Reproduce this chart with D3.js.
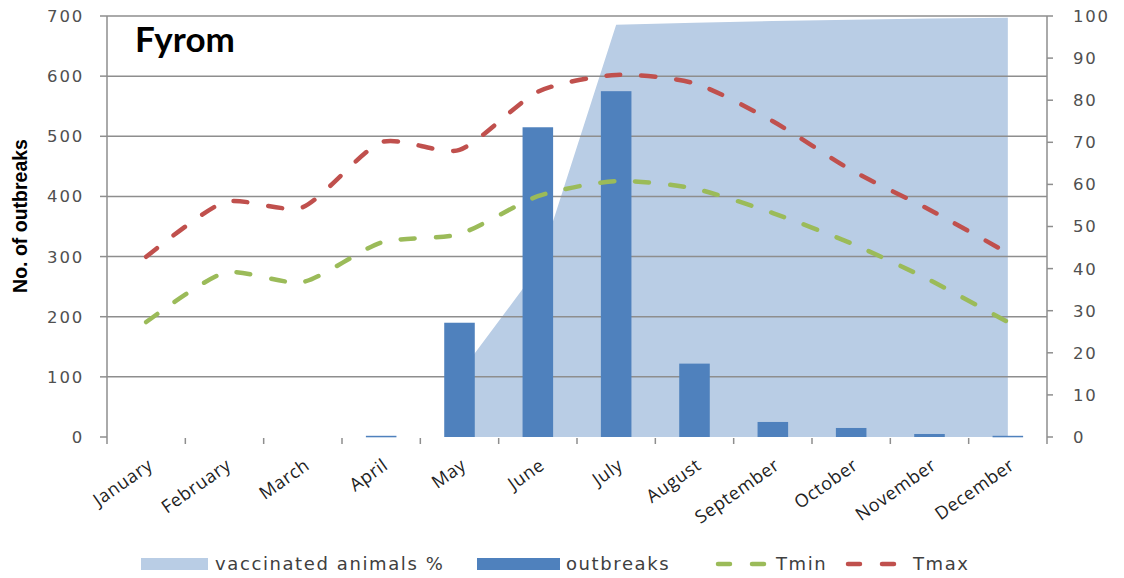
<!DOCTYPE html>
<html>
<head>
<meta charset="utf-8">
<script src="https://cdn.jsdelivr.net/npm/d3@7"></script>
<style>
  html, body { margin: 0; padding: 0; background: #fff; }
  svg { display: block; }
</style>
</head>
<body>
<svg id="chart" width="1124" height="578"></svg>
<script>
// Monthly outbreaks, vaccination coverage and temperatures
const months = ["January", "February", "March", "April", "May", "June",
                "July", "August", "September", "October", "November", "December"];
const outbreaks = [0, 0, 0, 2, 190, 515, 575, 122, 25, 15, 5, 2];
const vaccinated = [null, null, null, null, 15, 40, 97.9, 98.4, 98.8, 99.1, 99.4, 99.6];
const tmin = [27.3, 39, 36.8, 46.2, 48.2, 57.2, 60.8, 59, 53.2, 46, 37.3, 27.3];
const tmax = [42.8, 55.8, 54.6, 70, 68.2, 82, 86, 84, 75, 63.4, 54, 43.7];
const leftTicks = [0, 100, 200, 300, 400, 500, 600, 700];
const rightTicks = [0, 10, 20, 30, 40, 50, 60, 70, 80, 90, 100];
const legendItems = ["vaccinated animals %", "outbreaks", "Tmin", "Tmax"];

const C = {
  area: "#b9cde5",
  bar: "#4f81bd",
  tmin: "#9bbb59",
  tmax: "#c0504d",
  grid: "#8e8e8e",
  text: "#595959"
};

const svg = d3.select("#chart");
const plotL = 107, plotR = 1047, plotT = 16, plotB = 437;

const x = d3.scaleBand().domain(months).range([plotL, plotR]).paddingInner(0).paddingOuter(0);
const yL = d3.scaleLinear().domain([0, 700]).range([plotB, plotT]);
const yR = d3.scaleLinear().domain([0, 100]).range([plotB, plotT]);
const cx = m => x(m) + x.bandwidth() / 2;

// vaccination coverage area (right axis)
const areaData = months.map((m, i) => ({ m, v: vaccinated[i] }));
svg.append("path")
  .datum(areaData)
  .attr("fill", C.area)
  .attr("d", d3.area()
    .defined(d => d.v !== null)
    .x(d => cx(d.m))
    .y0(yR(0))
    .y1(d => yR(d.v)));

// horizontal gridlines
svg.append("g").selectAll("line")
  .data(leftTicks.filter(t => t > 0))
  .join("line")
  .attr("x1", plotL).attr("x2", plotR)
  .attr("y1", d => yL(d)).attr("y2", d => yL(d))
  .attr("stroke", C.grid).attr("stroke-width", 1.5);

// outbreak bars (left axis)
const bw = x.bandwidth() * 0.39;
svg.append("g").selectAll("rect")
  .data(months.map((m, i) => ({ m, v: outbreaks[i] })).filter(d => d.v > 0))
  .join("rect")
  .attr("x", d => cx(d.m) - bw / 2)
  .attr("width", bw)
  .attr("y", d => yL(d.v))
  .attr("height", d => Math.max(1.5, yL(0) - yL(d.v)))
  .attr("fill", C.bar);

// temperature lines (right axis)
const line = d3.line()
  .x(d => cx(d.m))
  .y(d => yR(d.v))
  .curve(d3.curveCardinal.tension(0.3));
[[tmin, C.tmin], [tmax, C.tmax]].forEach(([vals, col]) => {
  svg.append("path")
    .datum(months.map((m, i) => ({ m, v: vals[i] })))
    .attr("fill", "none")
    .attr("stroke", col)
    .attr("stroke-width", 4.5)
    .attr("stroke-linecap", "round")
    .attr("stroke-dasharray", "14,21")
    .attr("d", line);
});

// axes
const axisG = svg.append("g").attr("stroke", C.grid).attr("stroke-width", 1.5);
axisG.append("line").attr("x1", plotL).attr("x2", plotL).attr("y1", plotT).attr("y2", plotB + 7);
axisG.append("line").attr("x1", plotR).attr("x2", plotR).attr("y1", plotT).attr("y2", plotB + 7);
axisG.selectAll(".lt").data(leftTicks).join("line").attr("class", "lt")
  .attr("x1", plotL - 7).attr("x2", plotL).attr("y1", d => yL(d)).attr("y2", d => yL(d));
axisG.selectAll(".rt").data(rightTicks).join("line").attr("class", "rt")
  .attr("x1", plotR).attr("x2", plotR + 6).attr("y1", d => yR(d)).attr("y2", d => yR(d));
axisG.selectAll(".bt").data(months.slice(1)).join("line").attr("class", "bt")
  .attr("x1", d => x(d)).attr("x2", d => x(d)).attr("y1", plotB + 1).attr("y2", plotB + 7);

// tick labels
svg.append("g").selectAll("text").data(leftTicks).join("text")
  .attr("x", 84).attr("y", d => yL(d))
  .attr("dy", "0.36em")
  .attr("text-anchor", "end")
  .attr("font-family", "DejaVu Sans, sans-serif")
  .attr("font-size", 16.5).attr("letter-spacing", 1.8)
  .attr("fill", "#505050")
  .text(d => d);

svg.append("g").selectAll("text").data(rightTicks).join("text")
  .attr("x", 1073).attr("y", d => yR(d))
  .attr("dy", "0.36em")
  .attr("font-family", "DejaVu Sans, sans-serif")
  .attr("font-size", 16.5).attr("letter-spacing", 1.8)
  .attr("fill", "#505050")
  .text(d => d);

svg.append("g").selectAll("text").data(months).join("text")
  .attr("transform", d => `translate(${cx(d) + 8},${468}) rotate(-35)`)
  .attr("text-anchor", "end")
  .attr("font-family", "Open Sans, sans-serif")
  .attr("font-size", 18).attr("letter-spacing", 0.6)
  .attr("fill", "#222")
  .text(d => d);

// axis title and chart title
svg.append("text")
  .attr("transform", "translate(27,216) rotate(-90)")
  .attr("text-anchor", "middle")
  .attr("font-family", "Liberation Sans, Arial, sans-serif")
  .attr("font-weight", "bold")
  .attr("font-size", 19.5)
  .attr("fill", "#000")
  .text("No. of outbreaks");

svg.append("text")
  .attr("x", 135).attr("y", 52)
  .attr("font-family", "Lato, Liberation Sans, sans-serif")
  .attr("font-weight", "bold")
  .attr("font-size", 35)
  .attr("fill", "#000")
  .text("Fyrom");

// legend
const lg = svg.append("g")
  .attr("font-family", "DejaVu Sans, sans-serif")
  .attr("font-size", 18).attr("letter-spacing", 1.6)
  .attr("fill", "#404040");
const ly = 564;
lg.append("rect").attr("x", 141).attr("y", ly - 6).attr("width", 67).attr("height", 12).attr("fill", C.area);
lg.append("text").attr("x", 215).attr("y", ly).attr("dy", "0.36em").text(legendItems[0]);
lg.append("rect").attr("x", 477).attr("y", ly - 6).attr("width", 83).attr("height", 12).attr("fill", C.bar);
lg.append("text").attr("x", 566).attr("y", ly).attr("dy", "0.36em").text(legendItems[1]);
[[718, C.tmin, legendItems[2], 776], [848, C.tmax, legendItems[3], 913]].forEach(([x0, col, label, tx]) => {
  lg.append("line").attr("x1", x0).attr("x2", x0 + 48).attr("y1", ly).attr("y2", ly)
    .attr("stroke", col).attr("stroke-width", 4.5).attr("stroke-linecap", "round")
    .attr("stroke-dasharray", "12,22");
  lg.append("text").attr("x", tx).attr("y", ly).attr("dy", "0.36em").text(label);
});
</script>
</body>
</html>
